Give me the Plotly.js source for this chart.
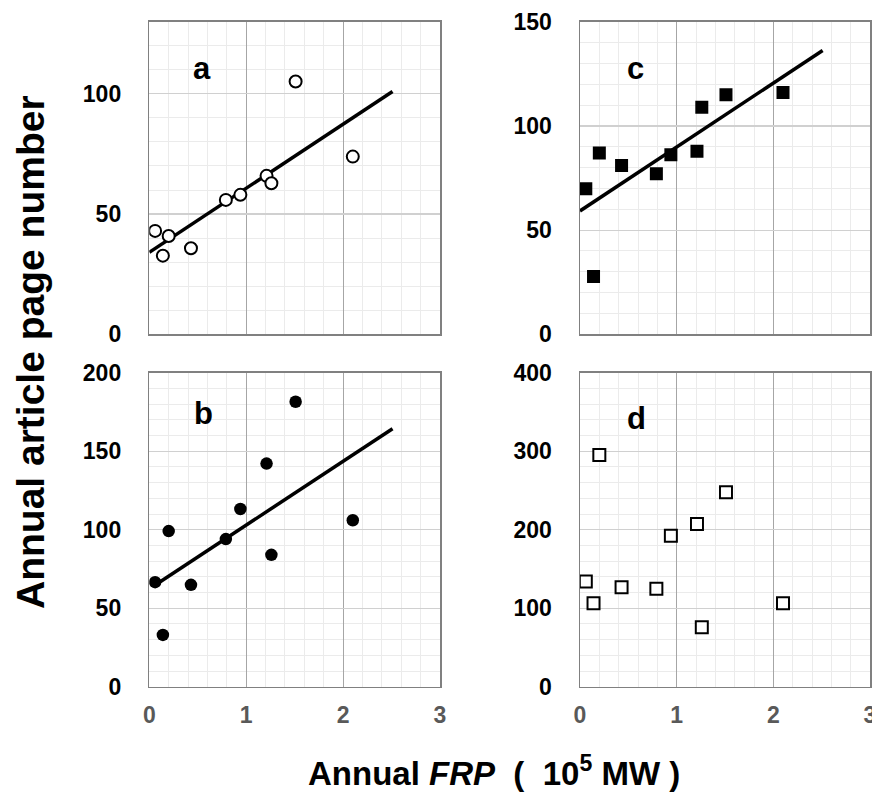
<!DOCTYPE html>
<html>
<head>
<meta charset="utf-8">
<script src="https://cdn.plot.ly/plotly-3.0.1.min.js"></script>
<style>html,body{margin:0;padding:0;background:#fff;}#chart{width:872px;height:796px;}</style>
</head>
<body>
<div id="chart"></div>
<script>
// ---- data ----
const frp = [0.06, 0.14, 0.20, 0.43, 0.79, 0.94, 1.21, 1.26, 1.51, 2.10];
const pagesA = [43.0, 32.7, 40.9, 35.8, 55.9, 58.0, 65.9, 62.8, 105.1, 73.9];
const pagesB = [66.6, 33.0, 99.1, 64.9, 94.0, 113.2, 142.1, 84.0, 181.5, 106.0];
const pagesC = [69.8, 27.7, 87.0, 81.0, 77.0, 86.1, 87.8, 109.0, 114.9, 116.0];
const pagesD = [134.0, 106.4, 295.3, 126.8, 124.7, 192.3, 207.2, 75.7, 247.7, 106.4];
const fitXA = [0, 2.51], fitA = [34.1, 101.0];
const fitXB = [0.05, 2.51], fitB = [64.3, 164.3];
const fitXC = [0, 2.51], fitC = [59.2, 136.2];
const xTicks = [0, 1, 2, 3];
const panelLetters = ['a', 'b', 'c', 'd'];

const FONT = 'Liberation Sans, Arial, sans-serif';
const lineStyle = {color: '#000', width: 3.5};

const traces = [
  {x: fitXA, y: fitA, xaxis: 'x', yaxis: 'y', mode: 'lines', line: lineStyle},
  {x: frp, y: pagesA, xaxis: 'x', yaxis: 'y', mode: 'markers',
   marker: {symbol: 'circle', size: 12, color: '#fff', line: {color: '#000', width: 2}}},
  {x: fitXB, y: fitB, xaxis: 'x3', yaxis: 'y3', mode: 'lines', line: lineStyle},
  {x: frp, y: pagesB, xaxis: 'x3', yaxis: 'y3', mode: 'markers',
   marker: {symbol: 'circle', size: 12.5, color: '#000'}},
  {x: fitXC, y: fitC, xaxis: 'x2', yaxis: 'y2', mode: 'lines', line: lineStyle},
  {x: frp, y: pagesC, xaxis: 'x2', yaxis: 'y2', mode: 'markers',
   marker: {symbol: 'square', size: 13, color: '#000'}},
  {x: frp, y: pagesD, xaxis: 'x4', yaxis: 'y4', mode: 'markers',
   marker: {symbol: 'square', size: 12, color: '#fff', line: {color: '#000', width: 2}}}
];

function xax(domain, anchor, labels) {
  return {
    domain: domain, anchor: anchor, range: [0, 3], tickvals: xTicks,
    showticklabels: labels, ticks: '', ticklabelstandoff: 7, ticklabeloverflow: 'allow',
    tickfont: {family: FONT, size: 23, color: '#595959', weight: 'bold'},
    showgrid: true, gridcolor: '#a6a6a6', gridwidth: 1,
    minor: {dtick: 0.2, showgrid: true, gridcolor: '#ebebeb', gridwidth: 1},
    showline: true, mirror: true, linecolor: '#808080', linewidth: 1.5,
    zeroline: false, fixedrange: true
  };
}
function yax(domain, anchor, top, dt, mdt) {
  return {
    domain: domain, anchor: anchor, range: [0, top], dtick: dt, tick0: 0,
    ticks: '', ticklabelstandoff: 22, ticklabeloverflow: 'allow',
    tickfont: {family: FONT, size: 23, color: '#000', weight: 'bold'},
    showgrid: true, gridcolor: '#d0d0d0', gridwidth: 1.2,
    minor: {dtick: mdt, tick0: 0, showgrid: true, gridcolor: '#ebebeb', gridwidth: 1},
    showline: true, mirror: true, linecolor: '#808080', linewidth: 1.5,
    zeroline: false, fixedrange: true
  };
}

const W = 872, H = 796;
const colL = [149.3 / W, 440 / W], colR = [580 / W, 870 / W];
const rowT = [(H - 334.3) / H, (H - 21.7) / H], rowB = [(H - 686.7) / H, (H - 372.7) / H];

const letterFont = {family: FONT, size: 31, color: '#000', weight: 'bold'};
function letter(i, xa, ya, x, y) {
  return {text: panelLetters[i], xref: xa + ' domain', yref: ya + ' domain', x: x, y: y,
          xanchor: 'center', yanchor: 'middle', showarrow: false, font: letterFont};
}
const layout = {
  width: W, height: H, margin: {l: 0, r: 0, t: 0, b: 0},
  paper_bgcolor: '#fff', plot_bgcolor: '#fff', showlegend: false,
  xaxis: xax(colL, 'y', false), yaxis: yax(rowT, 'x', 130, 50, 10),
  xaxis2: xax(colR, 'y2', false), yaxis2: yax(rowT, 'x2', 150, 50, 10),
  xaxis3: xax(colL, 'y3', true), yaxis3: yax(rowB, 'x3', 200, 50, 10),
  xaxis4: xax(colR, 'y4', true), yaxis4: yax(rowB, 'x4', 400, 100, 20),
  annotations: [
    letter(0, 'x', 'y', 0.18, 0.85),
    letter(1, 'x3', 'y3', 0.185, 0.87),
    letter(2, 'x2', 'y2', 0.19, 0.85),
    letter(3, 'x4', 'y4', 0.195, 0.855),
    {text: 'Annual article page number', xref: 'paper', yref: 'paper', x: 30 / W, y: (H - 352) / H,
     xanchor: 'center', yanchor: 'middle',
     textangle: -90, showarrow: false, font: {family: FONT, size: 39, color: '#000', weight: 'bold'}},
    {text: 'Annual <i>FRP</i>  (  10<sup>5</sup> MW )', xref: 'paper', yref: 'paper', x: 494 / W, y: (H - 771) / H,
     xanchor: 'center', yanchor: 'middle',
     showarrow: false, font: {family: FONT, size: 33, color: '#000', weight: 'bold'}}
  ]
};

Plotly.newPlot('chart', traces, layout, {displayModeBar: false, staticPlot: true});
</script>
</body>
</html>
